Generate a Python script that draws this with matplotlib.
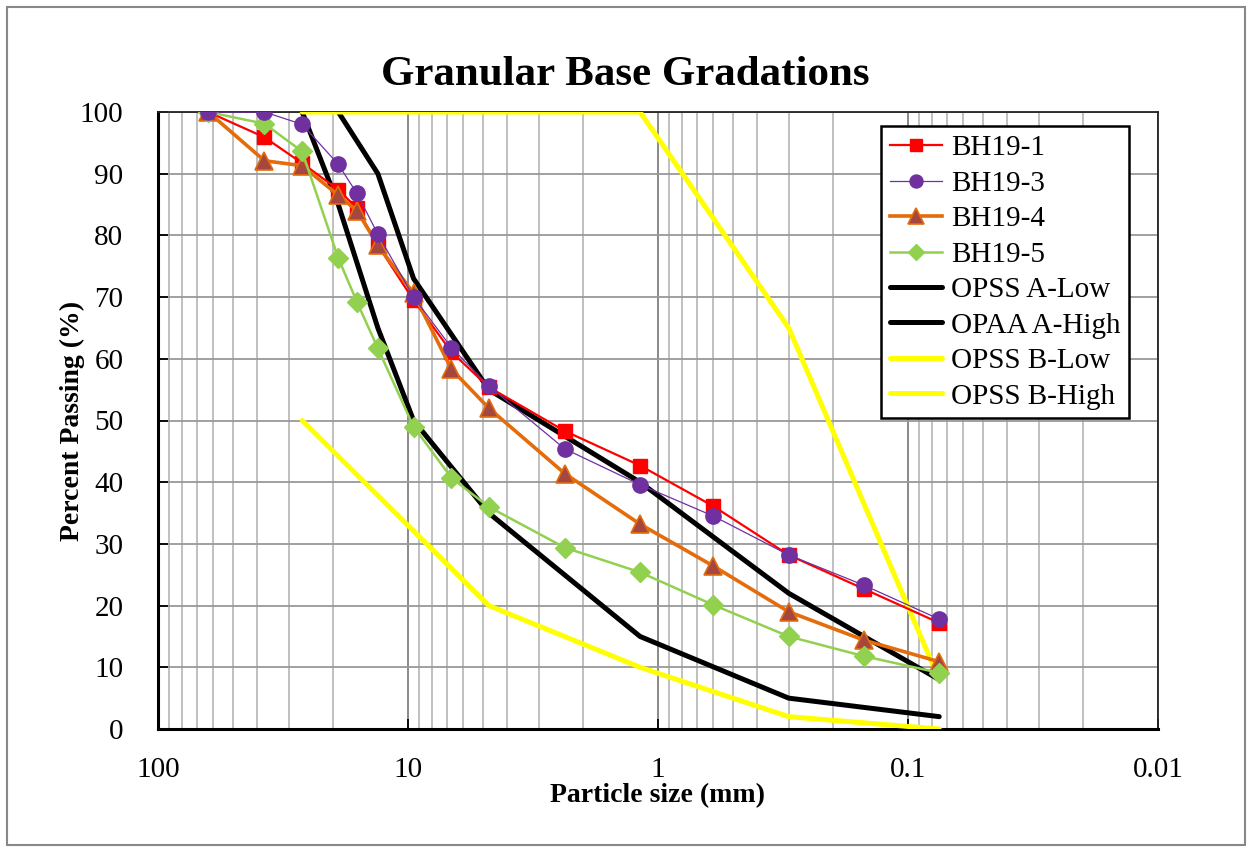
import matplotlib
matplotlib.use("Agg")
import matplotlib.pyplot as plt
from matplotlib.patches import Rectangle
from matplotlib.ticker import LogLocator, FixedLocator, FuncFormatter, NullFormatter

plt.rcParams['font.family'] = ['Liberation Serif', 'DejaVu Serif']

# sieve sizes (mm)
sieves = [63, 37.5, 26.5, 19, 16, 13.2, 9.5, 6.7, 4.75, 2.36, 1.18, 0.6, 0.3, 0.15, 0.075]

bh19_1 = [100, 95.9, 91.7, 87.4, 84.4, 78.4, 69.5, 61.1, 55.4, 48.3, 42.7, 36.1, 28.2, 22.7, 17.2]
bh19_3 = [100, 100, 98.0, 91.5, 86.8, 80.2, 70.0, 61.8, 55.6, 45.4, 39.6, 34.5, 28.2, 23.3, 17.8]
bh19_4 = [100, 92.1, 91.3, 86.5, 84.0, 78.4, 70.6, 58.3, 52.0, 41.4, 33.2, 26.4, 19.0, 14.4, 10.9]
bh19_5 = [100, 98.1, 93.6, 76.3, 69.2, 61.7, 49.0, 40.7, 36.0, 29.4, 25.4, 20.1, 15.0, 11.8, 9.1]

a_sieves = [26.5, 19, 13.2, 9.5, 4.75, 1.18, 0.3, 0.075]
opss_a_low = [100, 85, 65, 50, 35, 15, 5, 2]
opss_a_high_sieves = [19, 13.2, 9.5, 4.75, 1.18, 0.3, 0.075]
opss_a_high = [100, 90, 73, 55, 40, 22, 8]

b_low_sieves = [26.5, 4.75, 1.18, 0.3, 0.075]
opss_b_low = [50, 20, 10, 2, 0]
b_high_sieves = [26.5, 1.18, 0.3, 0.075]
opss_b_high = [100, 100, 65, 8]

x_ticks = [100, 10, 1, 0.1, 0.01]
x_tick_labels = ["100", "10", "1", "0.1", "0.01"]
y_ticks = list(range(0, 101, 10))

fig = plt.figure(figsize=(12.52, 8.48), dpi=100)
ax = fig.add_axes([158/1252, 1-729/848, 1000/1252, 617/848])

ax.plot(sieves, bh19_1, color='#FF0000', lw=1.6, marker='s', ms=10,
        mfc='#FF0000', mec='#FF0000', label='BH19-1', zorder=5)
ax.plot(sieves, bh19_3, color='#7030A0', lw=0.9, marker='o', ms=11,
        mfc='#7030A0', mec='#7030A0', label='BH19-3', zorder=6)
ax.plot(sieves, bh19_4, color='#E46C0A', lw=2.6, marker='^', ms=13,
        mfc='#A5473F', mec='#E46C0A', mew=1.2, label='BH19-4', zorder=5)
ax.plot(sieves, bh19_5, color='#92D050', lw=1.8, marker='D', ms=10,
        mfc='#92D050', mec='#92D050', label='BH19-5', zorder=5)
ax.plot(a_sieves, opss_a_low, color='black', lw=3.6, label='OPSS A-Low', zorder=4,
        solid_joinstyle='round', solid_capstyle='round')
ax.plot(opss_a_high_sieves, opss_a_high, color='black', lw=3.6, label='OPAA A-High', zorder=4,
        solid_joinstyle='round', solid_capstyle='round')
ax.plot(b_low_sieves, opss_b_low, color='#FFFF00', lw=3.6, label='OPSS B-Low', zorder=4,
        solid_joinstyle='round', solid_capstyle='round')
ax.plot(b_high_sieves, opss_b_high, color='#FFFF00', lw=3.6, label='OPSS B-High', zorder=4,
        solid_joinstyle='round', solid_capstyle='round')

ax.set_xscale('log')
ax.set_xlim(100, 0.01)
ax.set_ylim(0, 100)
ax.xaxis.set_major_locator(FixedLocator(x_ticks))
ax.xaxis.set_major_formatter(FuncFormatter(lambda v, p: x_tick_labels[x_ticks.index(v)] if v in x_ticks else ""))
ax.xaxis.set_minor_locator(LogLocator(base=10, subs=range(2, 10), numticks=20))
ax.xaxis.set_minor_formatter(NullFormatter())
ax.set_yticks(y_ticks)

ax.grid(True, which='major', axis='x', color='#808080', lw=1.3, zorder=0)
ax.grid(True, which='minor', axis='x', color='#BBBBBB', lw=1.3, zorder=0)
ax.grid(True, which='major', axis='y', color='#999999', lw=1.3, zorder=0)
ax.set_axisbelow(True)

ax.tick_params(axis='both', which='major', direction='in', length=7, width=1.3,
               labelsize=21)
ax.tick_params(axis='y', which='major', pad=25)
ax.tick_params(axis='x', which='minor', length=0)
ax.tick_params(axis='x', which='major', pad=20)

for s in ['left', 'bottom']:
    ax.spines[s].set_linewidth(2.2)
    ax.spines[s].set_color('black')
for s in ['top', 'right']:
    ax.spines[s].set_linewidth(1.3)
    ax.spines[s].set_color('#222222')

fig.text(625/1252, 1-75/848, 'Granular Base Gradations', fontsize=31, fontweight='bold',
         ha='center', va='center')
ax.set_xlabel('Particle size (mm)', fontsize=20, fontweight='bold', labelpad=0)
ax.set_ylabel('Percent Passing (%)', fontsize=20, fontweight='bold', labelpad=-4)

leg = ax.legend(loc='upper right', bbox_to_anchor=(0.971, 0.977), fontsize=21,
                frameon=True, fancybox=False, edgecolor='black', framealpha=1,
                handlelength=1.8, handletextpad=0.3, labelspacing=0.31,
                borderpad=0.3, borderaxespad=0, markerscale=0.85)
leg.get_frame().set_linewidth(1.8)

fig.patches.append(Rectangle((7/1252, 3/848), 1238/1252, 838/848, transform=fig.transFigure,
                             fill=False, edgecolor='#888888', lw=1.5))

fig.savefig('out.png', dpi=100)
